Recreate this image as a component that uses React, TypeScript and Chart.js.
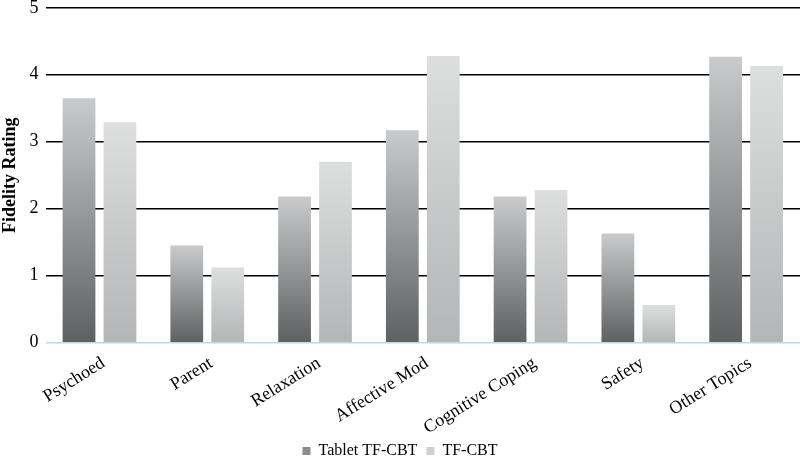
import React, { useEffect, useRef } from "react";
import { Chart, registerables } from "chart.js";

Chart.register(...registerables);

const categories = ["Psychoed", "Parent", "Relaxation", "Affective Mod", "Cognitive Coping", "Safety", "Other Topics"];
const tabletValues = [3.65, 1.45, 2.18, 3.17, 2.18, 1.63, 4.27];
const tfcbtValues = [3.29, 1.12, 2.70, 4.28, 2.28, 0.56, 4.13];
const seriesNames = ["Tablet TF-CBT", "TF-CBT"];
const yTicks = [0, 1, 2, 3, 4, 5];

const FONT = "'Liberation Serif', 'Times New Roman', serif";

function gradientFill(bottom: string, top: string, fallback: string) {
  return (ctx: any) => {
    const chart = ctx.chart;
    const area = chart.chartArea;
    const y = chart.scales && chart.scales.y;
    if (!area || !y || ctx.type !== "data") return fallback;
    const v = ctx.raw as number;
    const yTop = y.getPixelForValue(v);
    const yBot = y.getPixelForValue(0);
    if (!isFinite(yTop) || !isFinite(yBot) || yTop === yBot) return fallback;
    const g = chart.ctx.createLinearGradient(0, yBot, 0, yTop);
    g.addColorStop(0, bottom);
    g.addColorStop(1, top);
    return g;
  };
}

export default function App() {
  const ref = useRef<HTMLCanvasElement>(null);
  useEffect(() => {
    if (!ref.current) return;
    const chart = new Chart(ref.current, {
      type: "bar",
      data: {
        labels: categories,
        datasets: [
          {
            label: seriesNames[0],
            data: tabletValues,
            backgroundColor: gradientFill("#5e6062", "#c9cacb", "#8a8c8d"),
            borderWidth: 0,
            categoryPercentage: 0.76,
            barPercentage: 0.8,
          },
          {
            label: seriesNames[1],
            data: tfcbtValues,
            backgroundColor: gradientFill("#b3b5b6", "#dddede", "#c8c9ca"),
            borderWidth: 0,
            categoryPercentage: 0.76,
            barPercentage: 0.8,
          },
        ],
      },
      options: {
        animation: false,
        responsive: true,
        maintainAspectRatio: false,
        layout: { padding: { top: -7, right: 0, bottom: -11, left: 0 } },
        plugins: {
          tooltip: { enabled: false },
          legend: {
            position: "bottom",
            labels: {
              font: { family: FONT, size: 16 },
              color: "#000",
              boxWidth: 8,
              boxHeight: 8,
              padding: 9,
              generateLabels: () => [
                { text: seriesNames[0], fillStyle: "#8a8c8d", strokeStyle: "#8a8c8d", lineWidth: 0, datasetIndex: 0, fontColor: "#000" } as any,
                { text: seriesNames[1], fillStyle: "#cfd0d1", strokeStyle: "#cfd0d1", lineWidth: 0, datasetIndex: 1, fontColor: "#000" } as any,
              ],
            },
          },
        },
        scales: {
          x: {
            grid: { display: false },
            border: { display: false },
            afterFit: (scale: any) => {
              scale.height = scale.height - 7;
            },
            ticks: {
              font: { family: FONT, size: 18 },
              color: "#000",
              minRotation: 32,
              maxRotation: 32,
              padding: 2,
              labelOffset: 4,
            },
          },
          y: {
            min: 0,
            max: 5,
            afterBuildTicks: (axis: any) => {
              axis.ticks = yTicks.map((v) => ({ value: v }));
            },
            grid: {
              color: (ctx: any) => (ctx.tick && ctx.tick.value === 0 ? "#b5dcec" : "#000"),
              lineWidth: 1.4,
              drawTicks: false,
            },
            border: { display: false },
            ticks: {
              font: { family: FONT, size: 18 },
              color: "#000",
              padding: 7,
            },
            title: {
              display: true,
              text: "Fidelity Rating",
              font: { family: FONT, size: 18, weight: "bold" },
              color: "#000",
              padding: { top: 0, bottom: 1 },
            },
          },
        },
      },
    });
    return () => chart.destroy();
  }, []);
  return (
    <div style={{ position: "absolute", left: 0, top: -10, width: 800, height: 468 }}>
      <canvas ref={ref} />
    </div>
  );
}
